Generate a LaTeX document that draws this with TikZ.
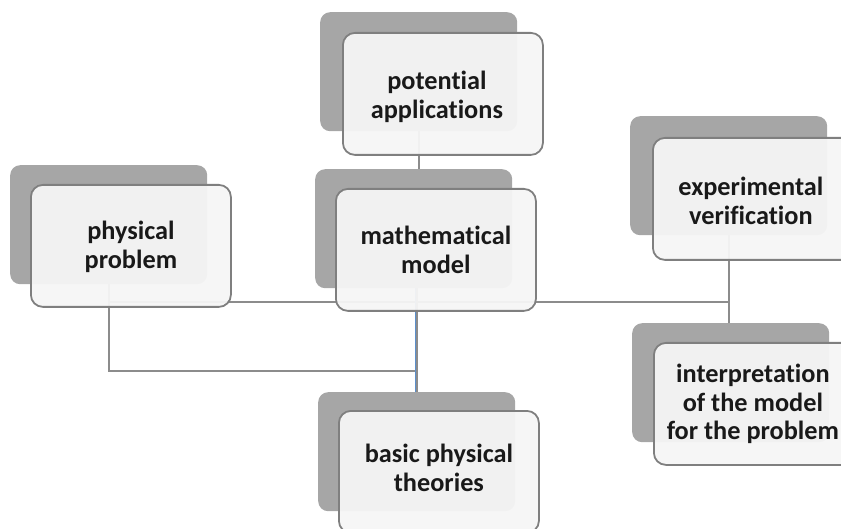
\documentclass[tikz,border=0pt]{standalone}
\usepackage{fontspec}
\setmainfont{Carlito}[Ligatures=NoCommon]
\usetikzlibrary{calc}
\definecolor{backgray}{HTML}{A6A6A6}
\definecolor{frontfill}{HTML}{F6F6F6}
\definecolor{bordergray}{HTML}{7F7F7F}
\definecolor{conngray}{HTML}{8C8C8C}
\definecolor{connblue}{HTML}{5B8FCB}
\tikzset{
  backbox/.style={rectangle, rounded corners=10pt, fill=backgray, draw=none,
    minimum width=197pt, minimum height=119pt, inner sep=0pt, anchor=north west},
  frontbox/.style={rectangle, rounded corners=12pt, fill=frontfill, fill opacity=0.95,
    text opacity=1, draw=bordergray, line width=1.8pt,
    minimum width=200pt, minimum height=122pt, inner sep=0pt, anchor=north west},
  lbl/.style={align=center, font=\fontsize{26.3}{28.5}\selectfont\bfseries, text=black!90},
  conn/.style={draw=conngray, line width=2.2pt},
}
\begin{document}
\begin{tikzpicture}[x=1pt,y=-1pt]
\useasboundingbox (0,0) rectangle (841,529);
\clip (0,0) rectangle (841,529);
% back boxes
\node[backbox] (pa-bg) at (320,12) {};
\node[backbox] (pp-bg) at (10,165) {};
\node[backbox] (mm-bg) at (315,169) {};
\node[backbox] (ev-bg) at (630,116) {};
\node[backbox] (int-bg) at (632,323) {};
\node[backbox] (bpt-bg) at (318,392) {};
% junction levels
\coordinate (hy) at (0,302);
\coordinate (ly) at (0,371);
% connectors
\draw[conn] (pa-bg.south) -- (pa-bg.south |- mm-bg.north);
\draw[conn] (pp-bg.south |- hy) -- (ev-bg.south |- hy);
\draw[conn] (ev-bg.south) -- (ev-bg.south |- int-bg.north);
\draw[conn] (pp-bg.south) -- (pp-bg.south |- ly) -- (bpt-bg.north |- ly);
\draw[conn] (bpt-bg.north |- mm-bg.south) -- (bpt-bg.north);
\draw[draw=connblue, line width=1pt] ([xshift=-1.6pt]bpt-bg.north |- mm-bg.south) -- ([xshift=-1.6pt]bpt-bg.north);
% front boxes
\node[frontbox] (pa) at (342,32) {};
\node[frontbox] (pp) at (30,184) {};
\node[frontbox] (mm) at (335,188) {};
\node[frontbox] (ev) at (652,137) {};
\node[frontbox] (int) at (653,342) {};
\node[frontbox] (bpt) at (338,410) {};
% labels
\node[lbl] (pa-t) at ([xshift=-6pt,yshift=-3pt]pa.center) {potential\\applications};
\node[lbl] (pp-t) at ([yshift=-1pt]pp.center) {physical\\problem};
\node[lbl] (mm-t) at ([yshift=0pt]mm.center) {mathematical\\model};
\node[lbl] (ev-t) at ([xshift=-2pt,yshift=-2pt]ev.center) {experimental\\verification};
\node[lbl] (int-t) at ([xshift=-1pt,yshift=0pt]int.center) {interpretation\\of the model\\for the problem};
\node[lbl] (bpt-t) at ([yshift=4pt]bpt.center) {basic physical\\theories};
\end{tikzpicture}
\end{document}
